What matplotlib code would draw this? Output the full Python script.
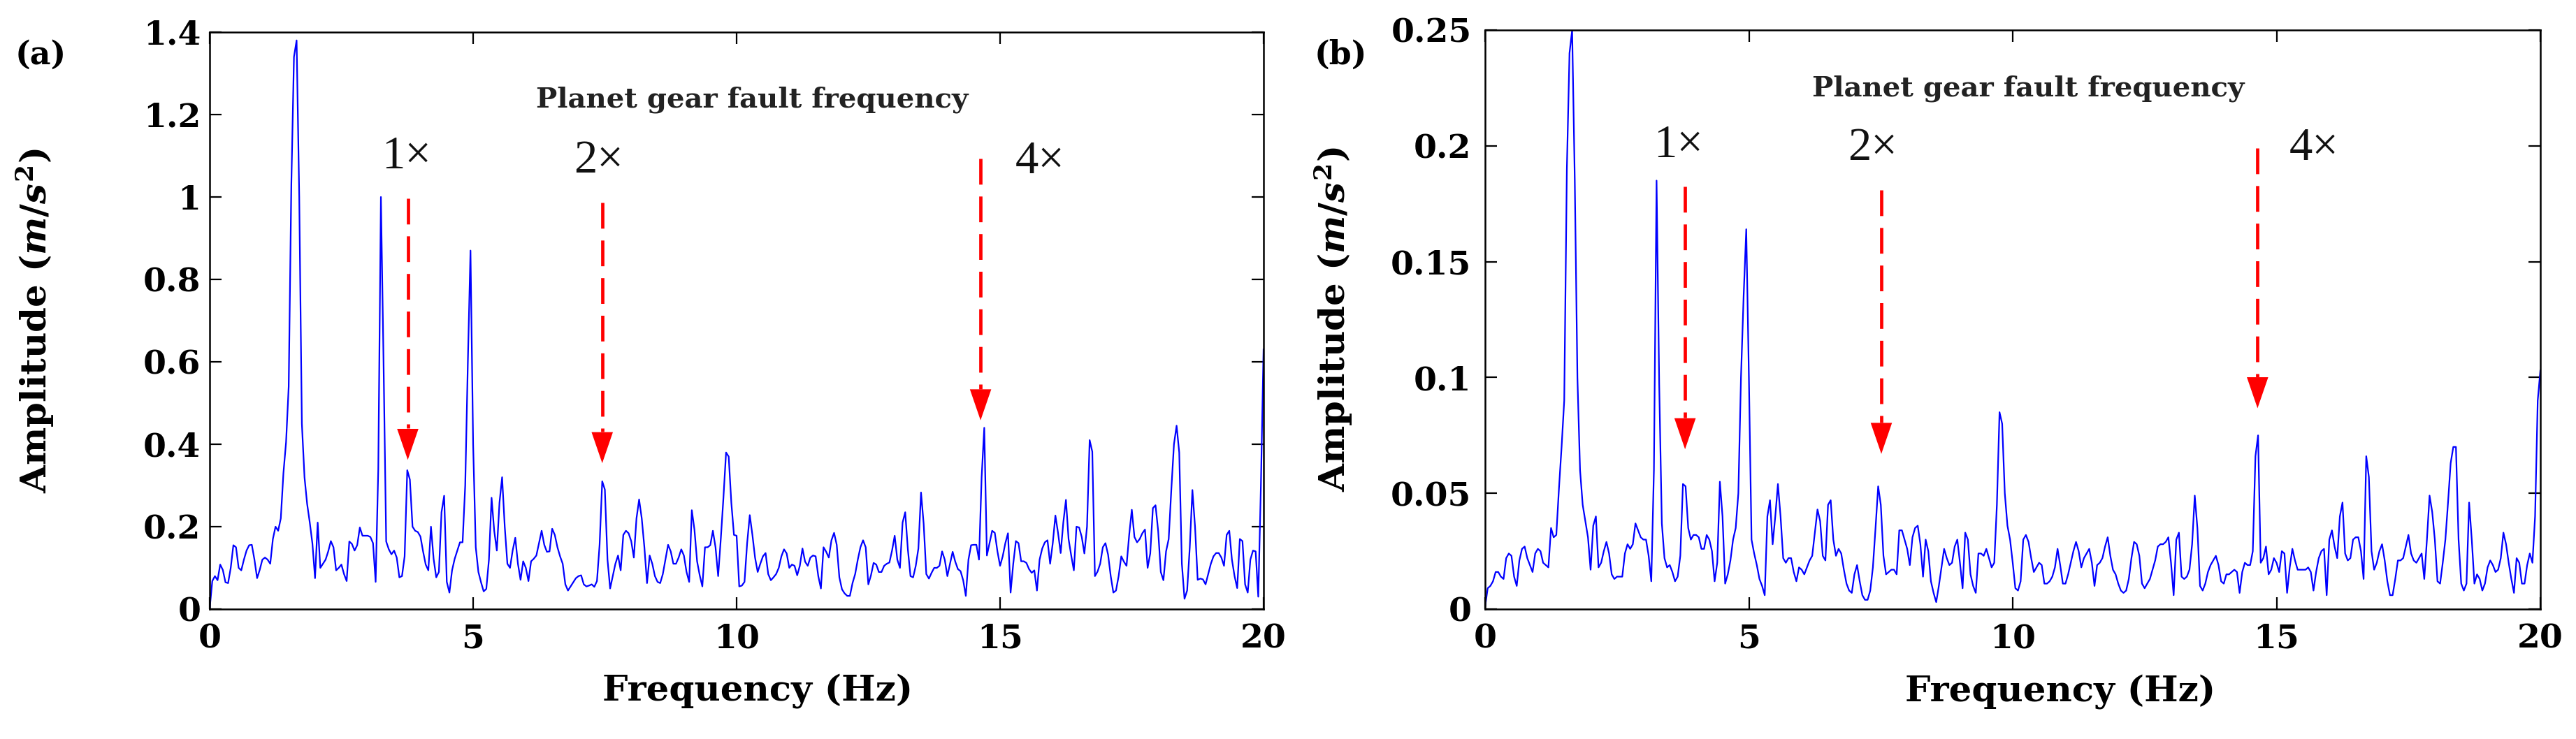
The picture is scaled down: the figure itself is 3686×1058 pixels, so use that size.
import numpy as np
import matplotlib
matplotlib.use('Agg')
import matplotlib.pyplot as plt

plt.rcParams['font.family'] = ['DejaVu Serif']
plt.rcParams['mathtext.fontset'] = 'custom'
plt.rcParams['mathtext.it'] = 'DejaVu Serif:italic:bold'
plt.rcParams['mathtext.rm'] = 'DejaVu Serif:bold'
plt.rcParams['mathtext.bf'] = 'DejaVu Serif:bold'

# frequency grid, 0.05 Hz steps
freq = np.round(np.arange(401) * 0.05, 2)

# (a) spectrum
amp_a = [
    0.0, 0.068, 0.08, 0.07, 0.108, 0.095, 0.065, 0.063, 0.10, 0.155, 0.15, 0.10, 0.094, 0.12, 0.142, 0.155, 0.156, 0.12, 0.075, 0.095,
    0.12, 0.125, 0.12, 0.11, 0.17, 0.20, 0.19, 0.22, 0.33, 0.405, 0.54, 1.03, 1.34, 1.38, 1.0, 0.45, 0.32, 0.255, 0.21, 0.159,
    0.075, 0.21, 0.10, 0.11, 0.12, 0.14, 0.165, 0.15, 0.094, 0.10, 0.108, 0.085, 0.068, 0.164, 0.158, 0.142, 0.155, 0.198, 0.178, 0.178,
    0.178, 0.175, 0.16, 0.066, 0.34, 1.0, 0.6, 0.164, 0.145, 0.133, 0.142, 0.125, 0.077, 0.08, 0.128, 0.337, 0.314, 0.20, 0.19, 0.187,
    0.176, 0.14, 0.108, 0.094, 0.20, 0.122, 0.077, 0.09, 0.235, 0.275, 0.066, 0.04, 0.094, 0.122, 0.142, 0.162, 0.162, 0.30, 0.60, 0.87,
    0.40, 0.15, 0.09, 0.065, 0.043, 0.049, 0.12, 0.27, 0.19, 0.142, 0.258, 0.32, 0.20, 0.11, 0.10, 0.142, 0.173, 0.11, 0.071, 0.116,
    0.10, 0.068, 0.116, 0.122, 0.13, 0.16, 0.19, 0.156, 0.139, 0.14, 0.195, 0.18, 0.15, 0.128, 0.11, 0.06, 0.045, 0.055, 0.065, 0.075,
    0.08, 0.082, 0.06, 0.055, 0.057, 0.06, 0.054, 0.068, 0.156, 0.31, 0.29, 0.12, 0.05, 0.08, 0.11, 0.13, 0.094, 0.18, 0.19, 0.184,
    0.165, 0.125, 0.22, 0.266, 0.22, 0.15, 0.063, 0.13, 0.11, 0.08, 0.066, 0.063, 0.085, 0.12, 0.156, 0.14, 0.11, 0.11, 0.125, 0.145,
    0.13, 0.09, 0.066, 0.24, 0.193, 0.116, 0.082, 0.055, 0.15, 0.15, 0.155, 0.19, 0.15, 0.08, 0.17, 0.27, 0.38, 0.37, 0.258, 0.18,
    0.178, 0.055, 0.057, 0.066, 0.16, 0.228, 0.18, 0.125, 0.09, 0.11, 0.128, 0.136, 0.085, 0.07, 0.077, 0.085, 0.10, 0.128, 0.145, 0.135,
    0.10, 0.108, 0.105, 0.082, 0.105, 0.147, 0.115, 0.105, 0.125, 0.13, 0.128, 0.08, 0.05, 0.15, 0.139, 0.125, 0.167, 0.185, 0.156, 0.077,
    0.048, 0.038, 0.032, 0.032, 0.063, 0.085, 0.12, 0.15, 0.167, 0.15, 0.06, 0.082, 0.112, 0.108, 0.09, 0.09, 0.105, 0.11, 0.113, 0.142,
    0.178, 0.12, 0.10, 0.21, 0.235, 0.145, 0.08, 0.077, 0.105, 0.147, 0.283, 0.207, 0.085, 0.074, 0.088, 0.10, 0.10, 0.105, 0.14, 0.12,
    0.08, 0.11, 0.139, 0.115, 0.097, 0.092, 0.07, 0.032, 0.12, 0.155, 0.156, 0.156, 0.12, 0.32, 0.44, 0.13, 0.16, 0.19, 0.185, 0.14,
    0.105, 0.128, 0.16, 0.184, 0.04, 0.11, 0.165, 0.16, 0.116, 0.116, 0.112, 0.097, 0.088, 0.094, 0.045, 0.12, 0.147, 0.162, 0.167, 0.11,
    0.16, 0.227, 0.185, 0.136, 0.21, 0.265, 0.17, 0.13, 0.094, 0.20, 0.198, 0.175, 0.135, 0.20, 0.41, 0.382, 0.08, 0.091, 0.11, 0.15,
    0.16, 0.132, 0.08, 0.04, 0.045, 0.08, 0.128, 0.115, 0.105, 0.18, 0.241, 0.175, 0.162, 0.17, 0.184, 0.193, 0.10, 0.135, 0.245, 0.252,
    0.19, 0.09, 0.07, 0.14, 0.17, 0.29, 0.40, 0.445, 0.38, 0.11, 0.025, 0.045, 0.15, 0.289, 0.20, 0.071, 0.074, 0.072, 0.06, 0.085,
    0.11, 0.128, 0.136, 0.136, 0.125, 0.105, 0.18, 0.19, 0.12, 0.08, 0.051, 0.17, 0.165, 0.06, 0.04, 0.12, 0.142, 0.14, 0.03, 0.30,
    0.63,
]

# (b) spectrum
amp_b = [
    0.001, 0.009, 0.01, 0.012, 0.016, 0.016, 0.014, 0.013, 0.022, 0.024, 0.023, 0.014, 0.01, 0.021, 0.026, 0.027, 0.022, 0.019, 0.016, 0.024,
    0.026, 0.025, 0.02, 0.019, 0.018, 0.035, 0.031, 0.032, 0.052, 0.07, 0.09, 0.19, 0.24, 0.25, 0.185, 0.10, 0.06, 0.045, 0.038, 0.031,
    0.017, 0.036, 0.04, 0.018, 0.02, 0.025, 0.029, 0.024, 0.015, 0.013, 0.014, 0.014, 0.014, 0.024, 0.028, 0.026, 0.028, 0.037, 0.034, 0.031,
    0.03, 0.03, 0.023, 0.012, 0.06, 0.185, 0.097, 0.037, 0.022, 0.018, 0.019, 0.016, 0.012, 0.014, 0.023, 0.054, 0.053, 0.035, 0.03, 0.032,
    0.032, 0.031, 0.026, 0.026, 0.032, 0.03, 0.025, 0.012, 0.02, 0.055, 0.04, 0.011, 0.015, 0.021, 0.03, 0.035, 0.05, 0.10, 0.135, 0.164,
    0.10, 0.03, 0.024, 0.019, 0.013, 0.01, 0.006, 0.04, 0.047, 0.028, 0.04, 0.054, 0.04, 0.022, 0.02, 0.022, 0.022, 0.016, 0.012, 0.018,
    0.017, 0.015, 0.018, 0.021, 0.023, 0.033, 0.043, 0.038, 0.023, 0.021, 0.045, 0.047, 0.03, 0.023, 0.026, 0.024, 0.017, 0.011, 0.008, 0.007,
    0.015, 0.019, 0.012, 0.006, 0.004, 0.004, 0.008, 0.018, 0.035, 0.053, 0.045, 0.023, 0.015, 0.016, 0.017, 0.017, 0.015, 0.034, 0.034, 0.03,
    0.026, 0.019, 0.031, 0.035, 0.036, 0.028, 0.014, 0.03, 0.025, 0.012, 0.007, 0.003, 0.01, 0.018, 0.026, 0.022, 0.019, 0.02, 0.027, 0.03,
    0.02, 0.009, 0.033, 0.03, 0.015, 0.01, 0.007, 0.024, 0.024, 0.023, 0.026, 0.022, 0.018, 0.02, 0.045, 0.085, 0.08, 0.05, 0.036, 0.03,
    0.02, 0.009, 0.008, 0.012, 0.03, 0.032, 0.029, 0.022, 0.016, 0.018, 0.02, 0.019, 0.011, 0.011, 0.012, 0.014, 0.018, 0.026, 0.019, 0.011,
    0.011, 0.015, 0.02, 0.025, 0.029, 0.025, 0.018, 0.022, 0.024, 0.026, 0.02, 0.01, 0.019, 0.02, 0.022, 0.027, 0.031, 0.023, 0.017, 0.015,
    0.011, 0.008, 0.007, 0.008, 0.013, 0.022, 0.029, 0.028, 0.023, 0.011, 0.009, 0.011, 0.013, 0.017, 0.021, 0.027, 0.028, 0.028, 0.029, 0.031,
    0.02, 0.006, 0.03, 0.033, 0.014, 0.013, 0.014, 0.017, 0.028, 0.049, 0.035, 0.01, 0.008, 0.011, 0.016, 0.019, 0.021, 0.023, 0.019, 0.012,
    0.011, 0.015, 0.015, 0.016, 0.017, 0.016, 0.007, 0.016, 0.02, 0.019, 0.019, 0.025, 0.066, 0.075, 0.02, 0.022, 0.027, 0.015, 0.017, 0.022,
    0.02, 0.016, 0.025, 0.024, 0.007, 0.018, 0.026, 0.021, 0.017, 0.017, 0.017, 0.017, 0.018, 0.016, 0.008, 0.016, 0.022, 0.025, 0.026, 0.006,
    0.03, 0.034, 0.027, 0.022, 0.04, 0.046, 0.024, 0.021, 0.022, 0.03, 0.031, 0.031, 0.025, 0.013, 0.066, 0.057, 0.025, 0.017, 0.02, 0.025,
    0.028, 0.021, 0.012, 0.006, 0.006, 0.013, 0.021, 0.021, 0.022, 0.027, 0.032, 0.024, 0.021, 0.02, 0.022, 0.024, 0.013, 0.03, 0.049, 0.042,
    0.03, 0.012, 0.011, 0.02, 0.03, 0.046, 0.063, 0.07, 0.07, 0.03, 0.011, 0.008, 0.011, 0.046, 0.03, 0.011, 0.015, 0.013, 0.008, 0.011,
    0.018, 0.021, 0.019, 0.016, 0.017, 0.022, 0.033, 0.028, 0.02, 0.013, 0.007, 0.022, 0.02, 0.011, 0.011, 0.019, 0.024, 0.02, 0.04, 0.09,
    0.103,
]

xticks = [0, 5, 10, 15, 20]
yticks_a = [0, 0.2, 0.4, 0.6, 0.8, 1.0, 1.2, 1.4]
ylabels_a = ['0', '0.2', '0.4', '0.6', '0.8', '1', '1.2', '1.4']
yticks_b = [0, 0.05, 0.1, 0.15, 0.2, 0.25]
ylabels_b = ['0', '0.05', '0.1', '0.15', '0.2', '0.25']

# harmonic markers: label, label x, label baseline y, arrow x, arrow top, arrow tip
marks_a = [('1×', 3.73, 1.069, 3.76, 0.997, 0.362),
           ('2×', 7.38, 1.059, 7.45, 0.986, 0.354),
           ('4×', 15.76, 1.058, 14.63, 1.093, 0.458)]
marks_b = [('1×', 3.66, 0.195, 3.79, 0.1825, 0.069),
           ('2×', 7.35, 0.194, 7.51, 0.181, 0.067),
           ('4×', 15.71, 0.194, 14.64, 0.199, 0.0867)]

W, H = 3686, 1058
fig = plt.figure(figsize=(W / 100, H / 100), dpi=100)


def panel(rect, amp, yticks, ylabels, ymax, marks, planet_y, tag, tag_x, ylab_x, xlab_x, ypad):
    ax = fig.add_axes([rect[0] / W, (H - rect[3]) / H, (rect[2] - rect[0]) / W, (rect[3] - rect[1]) / H])
    ax.plot(freq, amp, color='#0000ff', lw=1.6)
    ax.set_xlim(0, 20)
    ax.set_ylim(0, ymax)
    ax.set_xticks(xticks, [str(t) for t in xticks], fontsize=34, fontweight='bold')
    ax.set_yticks(yticks, ylabels, fontsize=34, fontweight='bold')
    ax.tick_params(direction='in', length=12, width=1.6, top=True, right=True)
    ax.tick_params(axis='x', pad=14)
    ax.tick_params(axis='y', pad=ypad)
    for s in ax.spines.values():
        s.set_linewidth(1.8)
    ax.set_xlabel('Frequency (Hz)', fontsize=37, fontweight='bold', va='top')
    ax.xaxis.set_label_coords(xlab_x, -0.112)
    ax.set_ylabel('Amplitude ($m/s^{2}$)', fontsize=37, fontweight='bold')
    ax.yaxis.set_label_coords(ylab_x, 0.5)

    ax.text(10.3, planet_y, 'Planet gear fault frequency', fontsize=29, fontweight='bold',
            color='#222222', ha='center', va='baseline')
    head = ymax * 45 / (rect[3] - rect[1])
    for lab, tx, ty, ax_x, top, tip in marks:
        ax.text(tx, ty, lab, fontsize=48, color='#111111', ha='center', va='baseline',
                family=['Liberation Serif', 'DejaVu Serif'])
        ax.plot([ax_x, ax_x], [top, tip + head], color='#ff0000', lw=3.4,
                ls=(0, (7.8, 3.6)), solid_capstyle='butt', dash_capstyle='butt')
        ax.annotate('', xy=(ax_x, tip), xytext=(ax_x, tip + head),
                    arrowprops=dict(arrowstyle='-|>,head_length=32,head_width=11',
                                    mutation_scale=1, color='#ff0000', lw=0,
                                    shrinkA=0, shrinkB=0))
    fig.text(tag_x / W, (H - 79) / H, tag, fontsize=33, fontweight='bold', ha='center', va='center')
    return ax


panel((300, 46, 1808, 872), amp_a, yticks_a, ylabels_a, 1.4, marks_a, 1.217,
      '(a)', 58, -0.146, 0.52, 9)
panel((2125, 43, 3635, 872), amp_b, yticks_b, ylabels_b, 0.25, marks_b, 0.2214,
      '(b)', 1918, -0.124, 0.545, 14)

fig.savefig('out.png', dpi=100)
